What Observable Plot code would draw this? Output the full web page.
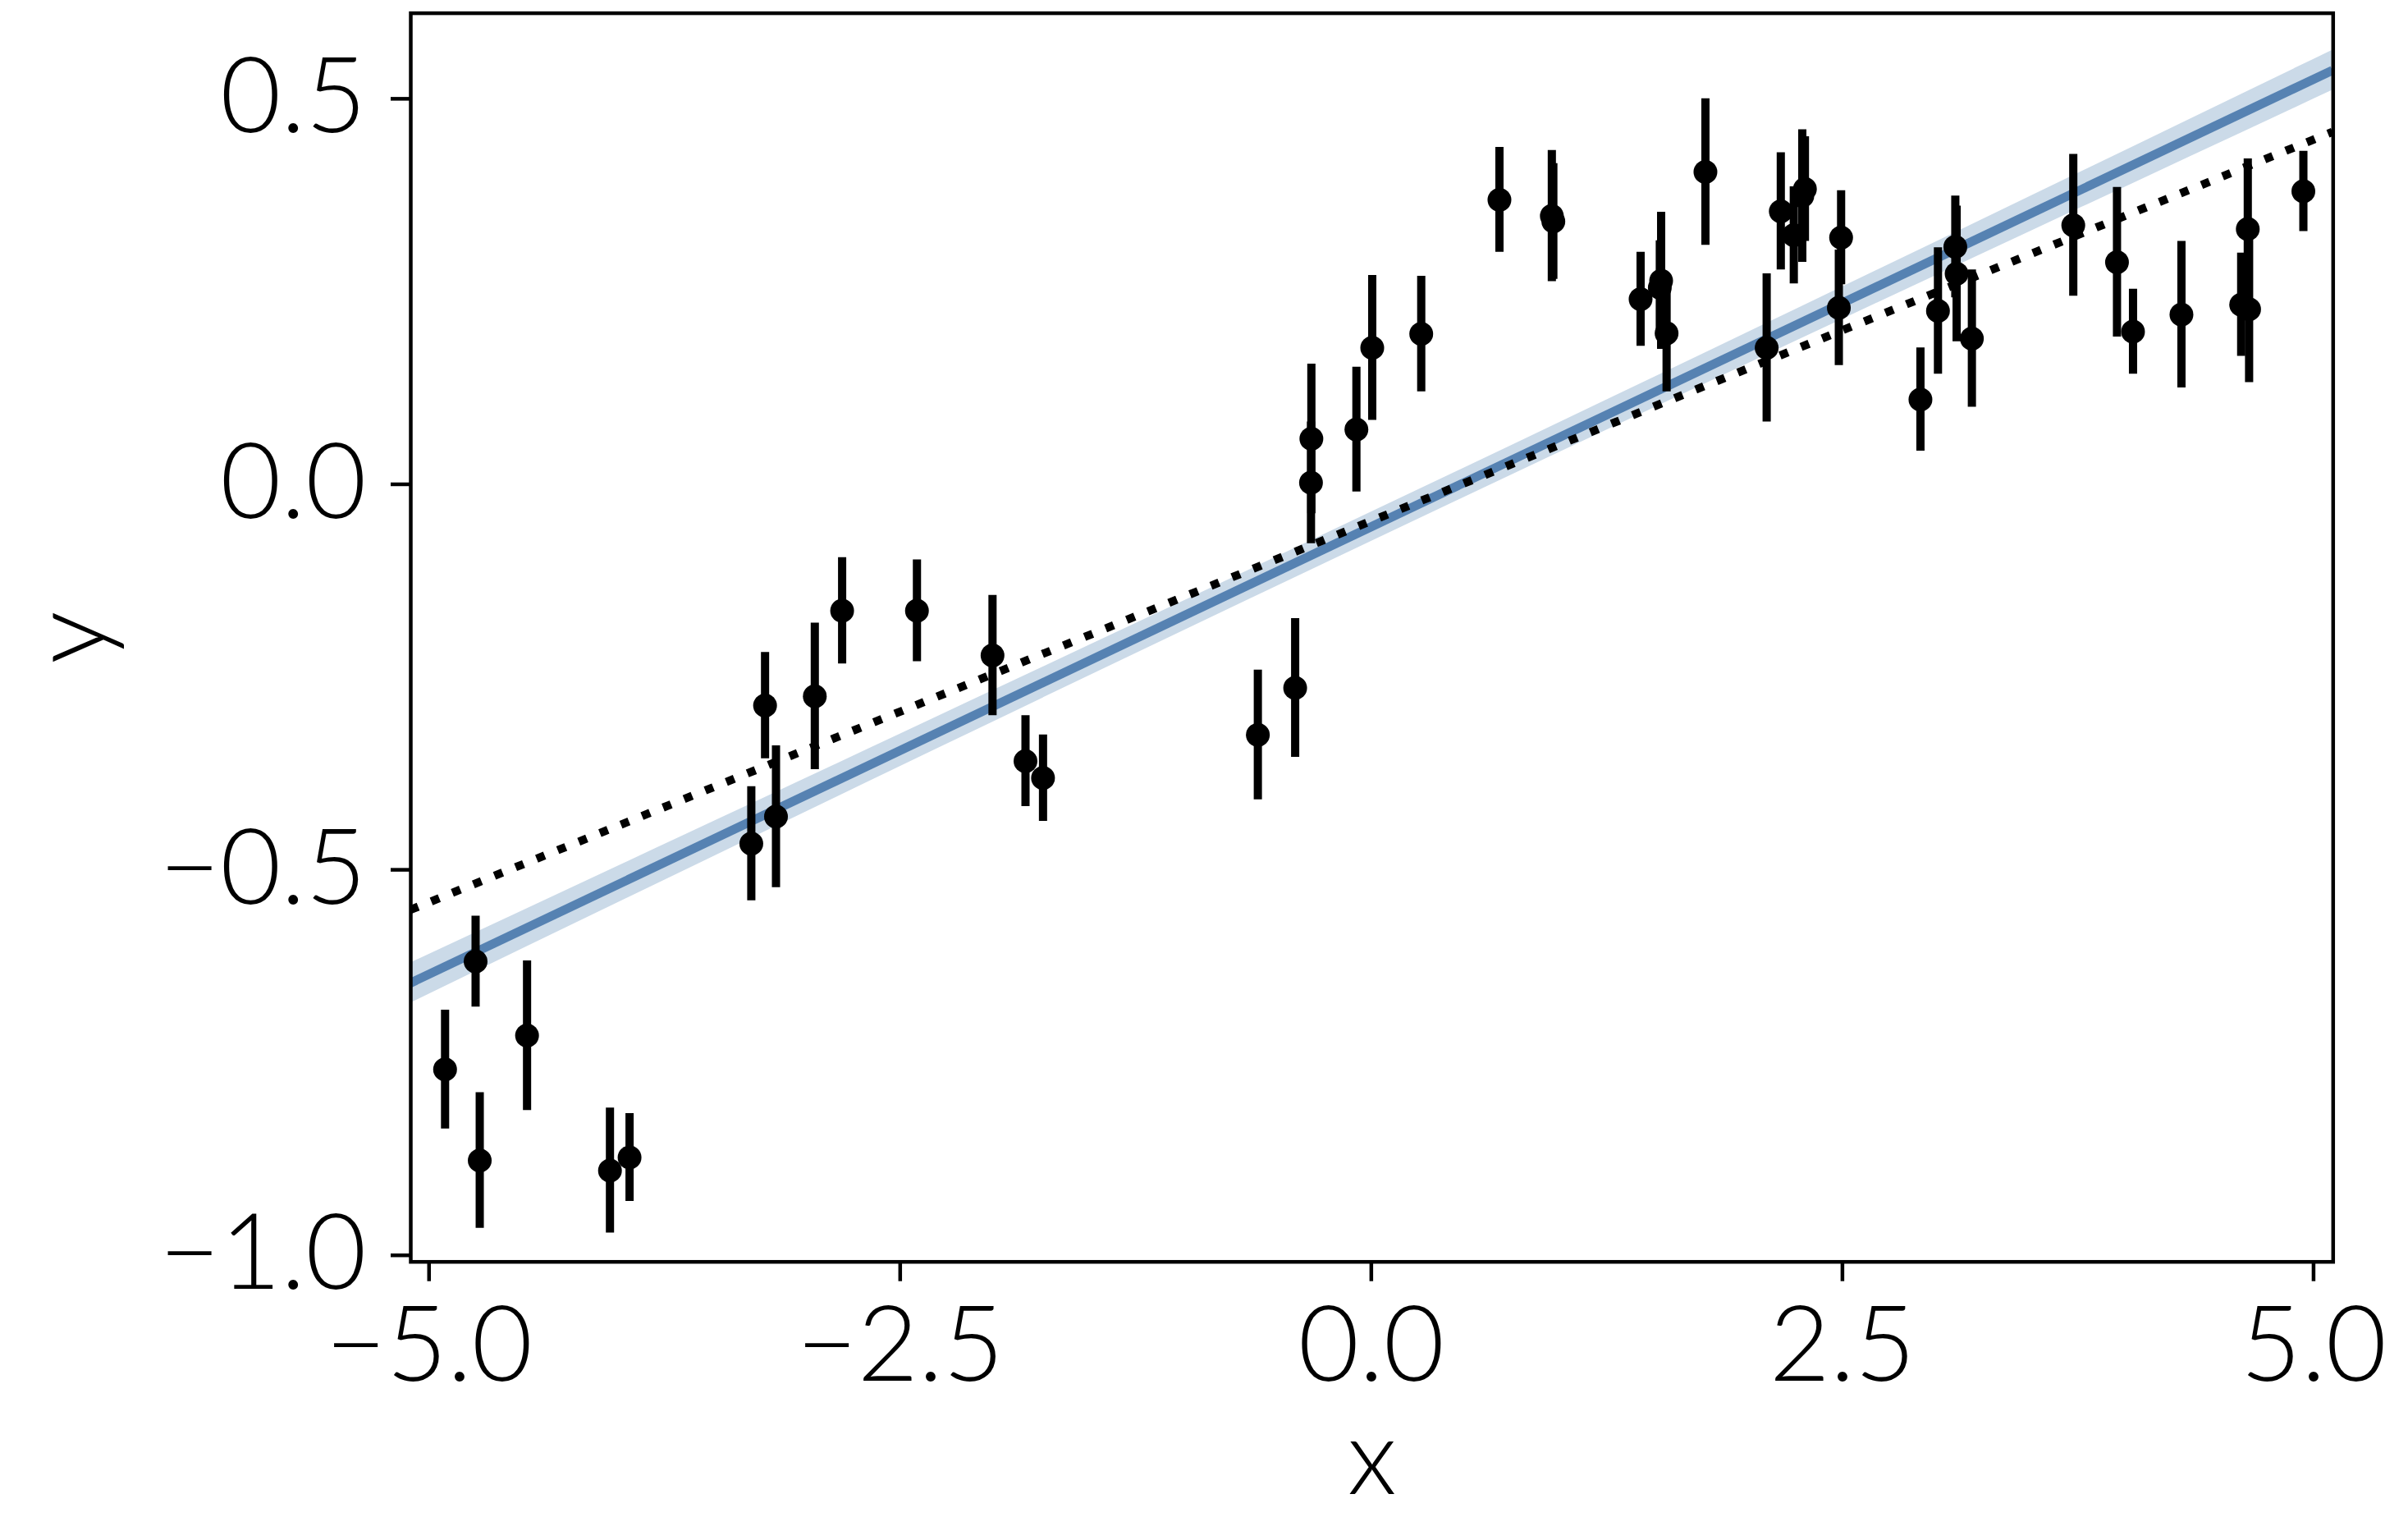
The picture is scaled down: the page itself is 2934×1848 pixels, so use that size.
<!DOCTYPE html>
<html>
<head>
<meta charset="utf-8">
<script src="https://cdn.jsdelivr.net/npm/d3@7"></script>
<script src="https://cdn.jsdelivr.net/npm/@observablehq/plot@0.6"></script>
<style>
  html, body { margin: 0; padding: 0; background: #ffffff; }
  #chart svg { display: block; }
</style>
</head>
<body>
<div id="chart"></div>
<script>
// ---- data ----
const pointX = [-4.915, -4.753, -4.731, -4.480, -4.040, -3.936, -3.290, -3.217, -3.159, -2.953,
                -2.808, -2.411, -2.010, -1.835, -1.742, -0.602, -0.404, -0.318, -0.320, -0.079,
                 0.005,  0.265,  0.680,  0.958,  0.966,  1.429,  1.531,  1.538,  1.567,  1.773,
                 2.098,  2.173,  2.242,  2.287,  2.301,  2.481,  2.493,  2.914,  3.007,  3.099,
                 3.106,  3.187,  3.725,  3.957,  4.042,  4.299,  4.616,  4.651,  4.658,  4.946];
const pointY = [-0.759, -0.619, -0.877, -0.715, -0.890, -0.873, -0.466, -0.287, -0.431, -0.275,
                -0.164, -0.164, -0.222, -0.359, -0.381, -0.325, -0.264,  0.059,  0.002,  0.071,
                 0.177,  0.195,  0.369,  0.348,  0.341,  0.240,  0.255,  0.264,  0.196,  0.405,
                 0.177,  0.354,  0.323,  0.374,  0.383,  0.229,  0.320,  0.110,  0.225,  0.308,
                 0.273,  0.189,  0.336,  0.288,  0.198,  0.220,  0.233,  0.331,  0.227,  0.380];
const pointErr = [0.077, 0.059, 0.088, 0.097, 0.081, 0.057, 0.074, 0.069, 0.092, 0.095,
                  0.069, 0.066, 0.078, 0.059, 0.056, 0.084, 0.090, 0.097, 0.079, 0.081,
                  0.094, 0.075, 0.068, 0.085, 0.075, 0.061, 0.061, 0.089, 0.076, 0.095,
                  0.096, 0.076, 0.063, 0.086, 0.068, 0.075, 0.061, 0.067, 0.082, 0.066,
                  0.088, 0.089, 0.092, 0.097, 0.055, 0.095, 0.067, 0.091, 0.095, 0.052];

// fitted line (blue) and its uncertainty band
const fitX = [-5.1, 5.1];
const fitY = [-0.647, 0.537];
const bandX  = [-5.1, -2.5, 0.0, 2.5, 5.1];
const bandLo = [-0.673, -0.366, -0.074, 0.214, 0.511];
const bandHi = [-0.621, -0.324, -0.036, 0.256, 0.563];

// dotted reference line
const trueX = [-5.1, 5.1];
const trueY = [-0.552, 0.457];

// axes
const xTicks = [-5.0, -2.5, 0.0, 2.5, 5.0];
const yTicks = [-1.0, -0.5, 0.0, 0.5];
const xDomain = [-5.097, 5.104];
const yDomain = [-1.0085, 0.611];
const xLabel = "x";
const yLabel = "y";

// ---- tables built from the arrays ----
const points = pointX.map((x, i) => ({x, y: pointY[i], e: pointErr[i]}));
const fit = fitX.map((x, i) => ({x, y: fitY[i]}));
const band = bandX.map((x, i) => ({x, lo: bandLo[i], hi: bandHi[i]}));
const truth = trueX.map((x, i) => ({x, y: trueY[i]}));

const lineColor = "#5682b2";
const bandColor = "#cbdae8";
const font = "Lato, 'Noto Sans', 'DejaVu Sans', sans-serif";

const chart = Plot.plot({
  width: 2934,
  height: 1848,
  marginLeft: 500,
  marginRight: 91.7,
  marginTop: 15.6,
  marginBottom: 311.3,
  x: {domain: xDomain},
  y: {domain: yDomain},
  style: {background: "white", color: "black", fontFamily: font, fontSize: "128px", fontWeight: 300},
  marks: [
    Plot.areaY(band, {x: "x", y1: "lo", y2: "hi", fill: bandColor, curve: "natural", clip: true}),
    Plot.line(fit, {x: "x", y: "y", stroke: lineColor, strokeWidth: 11, strokeLinecap: "butt", clip: true}),
    Plot.line(truth, {x: "x", y: "y", stroke: "black", strokeWidth: 10, strokeLinecap: "butt",
                      strokeDasharray: "10.5,17.2", clip: true}),
    Plot.ruleX(points, {x: "x", y1: d => d.y - d.e, y2: d => d.y + d.e, stroke: "black",
                        strokeWidth: 10, strokeLinecap: "butt"}),
    Plot.dot(points, {x: "x", y: "y", r: 14.5, fill: "black", stroke: "none"}),
    Plot.frame({stroke: "black", strokeWidth: 4.5}),
    Plot.axisX({ticks: xTicks, tickFormat: d3.format(".1f"), tickSize: 24, tickPadding: 30,
                strokeWidth: 4.5, label: null, fontSize: 128}),
    Plot.axisY({ticks: yTicks, tickFormat: d3.format(".1f"), tickSize: 24, tickPadding: 30,
                strokeWidth: 4.5, label: null, fontSize: 128}),
    Plot.text([xLabel], {frameAnchor: "bottom", lineAnchor: "bottom", textAnchor: "middle",
                         dy: 283, fontSize: 128, text: d => d}),
    Plot.text([yLabel], {frameAnchor: "left", lineAnchor: "bottom", textAnchor: "middle",
                         rotate: -90, dx: -373, fontSize: 128, text: d => d})
  ]
});

document.getElementById("chart").appendChild(chart);
</script>
</body>
</html>
